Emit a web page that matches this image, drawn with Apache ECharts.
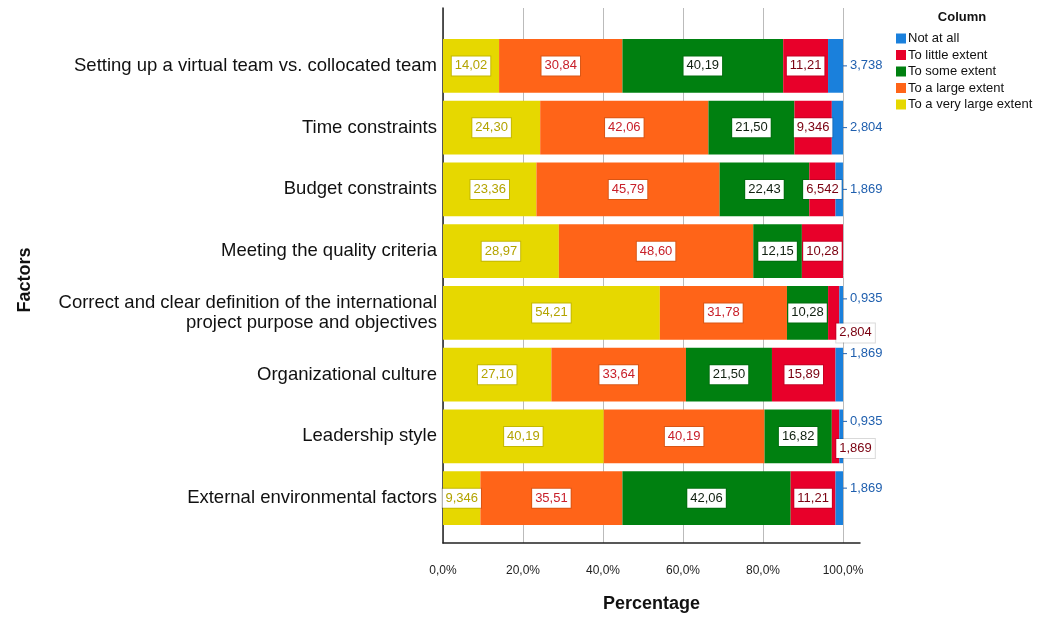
<!DOCTYPE html>
<html><head><meta charset="utf-8">
<script src="https://cdn.jsdelivr.net/npm/echarts@6/dist/echarts.min.js"></script>
<style>html,body{margin:0;padding:0;background:#fff}#c{width:1048px;height:618px}</style>
</head><body><div id="c"></div>
<script>
const categories = [
  'Setting up a virtual team vs. collocated team',
  'Time constraints',
  'Budget constraints',
  'Meeting the quality criteria',
  'Correct and clear definition of the international\nproject purpose and objectives',
  'Organizational culture',
  'Leadership style',
  'External environmental factors'
];
const seriesNames = ['To a very large extent','To a large extent','To some extent','To little extent','Not at all'];
const veryLarge = [14.02, 24.30, 23.36, 28.97, 54.21, 27.10, 40.19, 9.346];
const large     = [30.84, 42.06, 45.79, 48.60, 31.78, 33.64, 40.19, 35.51];
const some      = [40.19, 21.50, 22.43, 12.15, 10.28, 21.50, 16.82, 42.06];
const little    = [11.21, 9.346, 6.542, 10.28, 2.804, 15.89, 1.869, 11.21];
const notAtAll  = [3.738, 2.804, 1.869, 0, 0.935, 1.869, 0.935, 1.869];
const xTicks = [0, 20, 40, 60, 80, 100];

const colors = ['#e6d800','#ff6418','#008010','#e8002a','#1a80dc'];
const labelColors = ['#b3a300','#c8202a','#102010','#7a0010','#1f5fae'];

function fmt(v){ return (v < 10 ? v.toFixed(3) : v.toFixed(2)).replace('.', ','); }

const values = [veryLarge, large, some, little, notAtAll];
const XMAX = 104.25;
const blueDy = [0, 0, 0, 0, -14, -21, -15, -10];
const redMoved = { 4: 20, 6: 12 };

const series = values.map((arr, s) => {
  const ser = {
    name: seriesNames[s],
    type: 'bar',
    stack: 'total',
    xAxisIndex: 1, yAxisIndex: 1,
    barWidth: '87%',
    itemStyle: { color: colors[s] },
    label: {
      show: true,
      position: s === 4 ? 'right' : 'inside',
      distance: 4,
      formatter: p => fmt(p.value),
      color: labelColors[s],
      fontFamily: 'Liberation Sans, Arial',
      fontSize: 13,
      backgroundColor: s === 4 ? 'transparent' : '#fff',
      padding: [3, 3],
      borderColor: s === 4 ? 'transparent' : 'rgba(0,0,0,0.15)',
      borderWidth: s === 4 ? 0 : 1
    },
    data: arr.map((v, i) => {
      const d = { value: v };
      if (v === 0) d.label = { show: false };
      if (s === 3 && redMoved[i] !== undefined) {
        d.label = { position: 'right', distance: 0 };
      }
      return d;
    })
  };
  if (s === 4) {
    ser.labelLayout = p => ({ dy: blueDy[p.dataIndex] });
    ser.labelLine = { show: true, length2: 2, lineStyle: { color: '#1f5fae', width: 1 } };
  }
  if (s === 3) {
    ser.labelLayout = p => (redMoved[p.dataIndex] !== undefined ? { dx: -3, dy: redMoved[p.dataIndex] } : {});
    ser.labelLine = { show: true, length2: 2, lineStyle: { color: '#333', width: 1 } };
  }
  return ser;
});

const chart = echarts.init(document.getElementById('c'));
chart.setOption({
  animation: false,
  textStyle: { fontFamily: 'Liberation Sans, Arial' },
  grid: [
    { left: 443, right: 188, top: 8, bottom: 63 },
    { left: 443, right: 188, top: 35, bottom: 89 }
  ],
  xAxis: [
    { type: 'value', gridIndex: 0, min: 0, max: XMAX, interval: 20,
      axisLine: { show: true, lineStyle: { color: '#222', width: 1.5 } },
      axisTick: { show: false },
      splitLine: { show: true, showMaxLine: false, lineStyle: { color: '#bbb', width: 1 } },
      axisLabel: { color: '#222', fontSize: 12, margin: 22, showMaxLabel: false,
        formatter: v => xTicks.indexOf(v) >= 0 ? v.toFixed(1).replace('.', ',') + '%' : '' },
      name: 'Percentage', nameLocation: 'middle', nameGap: 52,
      nameTextStyle: { fontSize: 18, fontWeight: 'bold', color: '#111' } },
    { type: 'value', gridIndex: 1, min: 0, max: XMAX, show: false }
  ],
  yAxis: [
    { type: 'category', gridIndex: 0, data: [''],
      axisLine: { show: true, lineStyle: { color: '#222', width: 1.5 } },
      axisTick: { show: false }, axisLabel: { show: false }, splitLine: { show: false } },
    { type: 'category', gridIndex: 1, data: categories, inverse: true,
      axisLine: { show: false }, axisTick: { show: false },
      axisLabel: { color: '#111', fontSize: 18.5, margin: 6, align: 'right', lineHeight: 20 } }
  ],
  legend: {
    orient: 'vertical', left: 891, top: 27,
    itemWidth: 10, itemHeight: 10, itemGap: 3.5,
    icon: 'rect',
    data: ['Not at all','To little extent','To some extent','To a large extent','To a very large extent'],
    textStyle: { fontSize: 13, color: '#111', padding: [0, 0, 0, -3] }
  },
  graphic: [
    { type: 'text', x: 962, y: 17, style: { text: 'Column', fontSize: 13, fontWeight: 'bold', fill: '#111', align: 'center', verticalAlign: 'middle', fontFamily: 'Liberation Sans, Arial' } },
    { type: 'text', x: 25, y: 280, rotation: Math.PI / 2, style: { text: 'Factors', fontSize: 18, fontWeight: 'bold', fill: '#111', align: 'center', verticalAlign: 'middle', fontFamily: 'Liberation Sans, Arial' } }
  ],
  series: series
});
</script></body></html>
